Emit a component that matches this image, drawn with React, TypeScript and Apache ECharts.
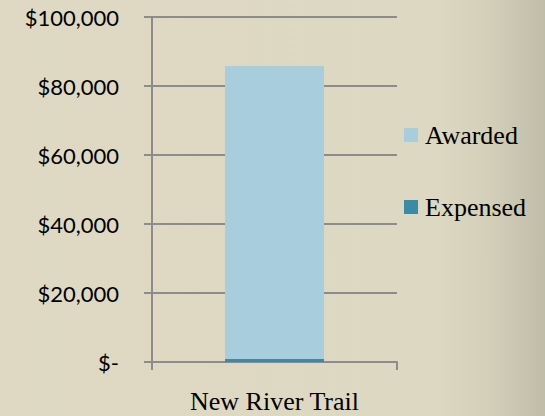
import React, { useEffect, useRef } from "react";
import * as echarts from "echarts";

const categories = ["New River Trail"];
const expensed = [900];
const awarded = [84900];
const yTicks = { min: 0, max: 100000, interval: 20000 };

const SERIF = "Liberation Serif";

export default function App() {
  const ref = useRef<HTMLDivElement>(null);
  useEffect(() => {
    if (!ref.current) return;
    const chart = echarts.init(ref.current, undefined, { renderer: "svg" });
    const gray = "#8c8c8c";
    chart.setOption({
      animation: false,
      textStyle: { fontFamily: SERIF },
      backgroundColor: {
        type: "linear",
        x: 0,
        y: 0,
        x2: 1,
        y2: 0,
        colorStops: [
          { offset: 0, color: "#DFD9C4" },
          { offset: 0.8, color: "#DDD8C2" },
          { offset: 0.9, color: "#D3CFB9" },
          { offset: 1, color: "#BFBCA8" },
        ],
      },
      grid: { left: 152, top: 17, width: 245, bottom: 54, containLabel: false },
      legend: {
        orient: "vertical",
        left: 404,
        top: 122,
        padding: 0,
        itemWidth: 14,
        itemHeight: 14,
        itemGap: 46,
        icon: "rect",
        data: ["Awarded", "Expensed"],
        textStyle: {
          fontFamily: SERIF,
          fontSize: 26,
          color: "#000",
          padding: [0, 0, 0, 2],
        },
      },
      xAxis: {
        type: "category",
        data: categories,
        axisLine: { lineStyle: { color: gray, width: 2 } },
        axisTick: { show: true, length: 8, lineStyle: { color: gray, width: 2 } },
        axisLabel: {
          fontFamily: SERIF,
          fontSize: 26,
          color: "#000",
          margin: 26,
        },
      },
      yAxis: {
        type: "value",
        min: yTicks.min,
        max: yTicks.max,
        interval: yTicks.interval,
        axisLine: { show: true, lineStyle: { color: gray, width: 2 } },
        axisTick: { show: true, length: 8, lineStyle: { color: gray, width: 2 } },
        splitLine: { show: true, lineStyle: { color: gray, width: 2 } },
        axisLabel: {
          fontFamily: "Lato",
          fontSize: 22,
          color: "#000",
          margin: 33,
          formatter: (v: number) =>
            v === 0 ? "$-" : "$" + v.toLocaleString("en-US"),
        },
      },
      series: [
        {
          name: "Expensed",
          type: "bar",
          stack: "total",
          barWidth: 99,
          data: expensed,
          itemStyle: { color: "#3A8CA6" },
        },
        {
          name: "Awarded",
          type: "bar",
          stack: "total",
          barWidth: 99,
          data: awarded,
          itemStyle: { color: "#A8CEDE" },
        },
      ],
    });
    return () => chart.dispose();
  }, []);
  return (
    <div
      ref={ref}
      style={{ position: "fixed", left: 0, top: 0, width: 545, height: 416 }}
    />
  );
}
